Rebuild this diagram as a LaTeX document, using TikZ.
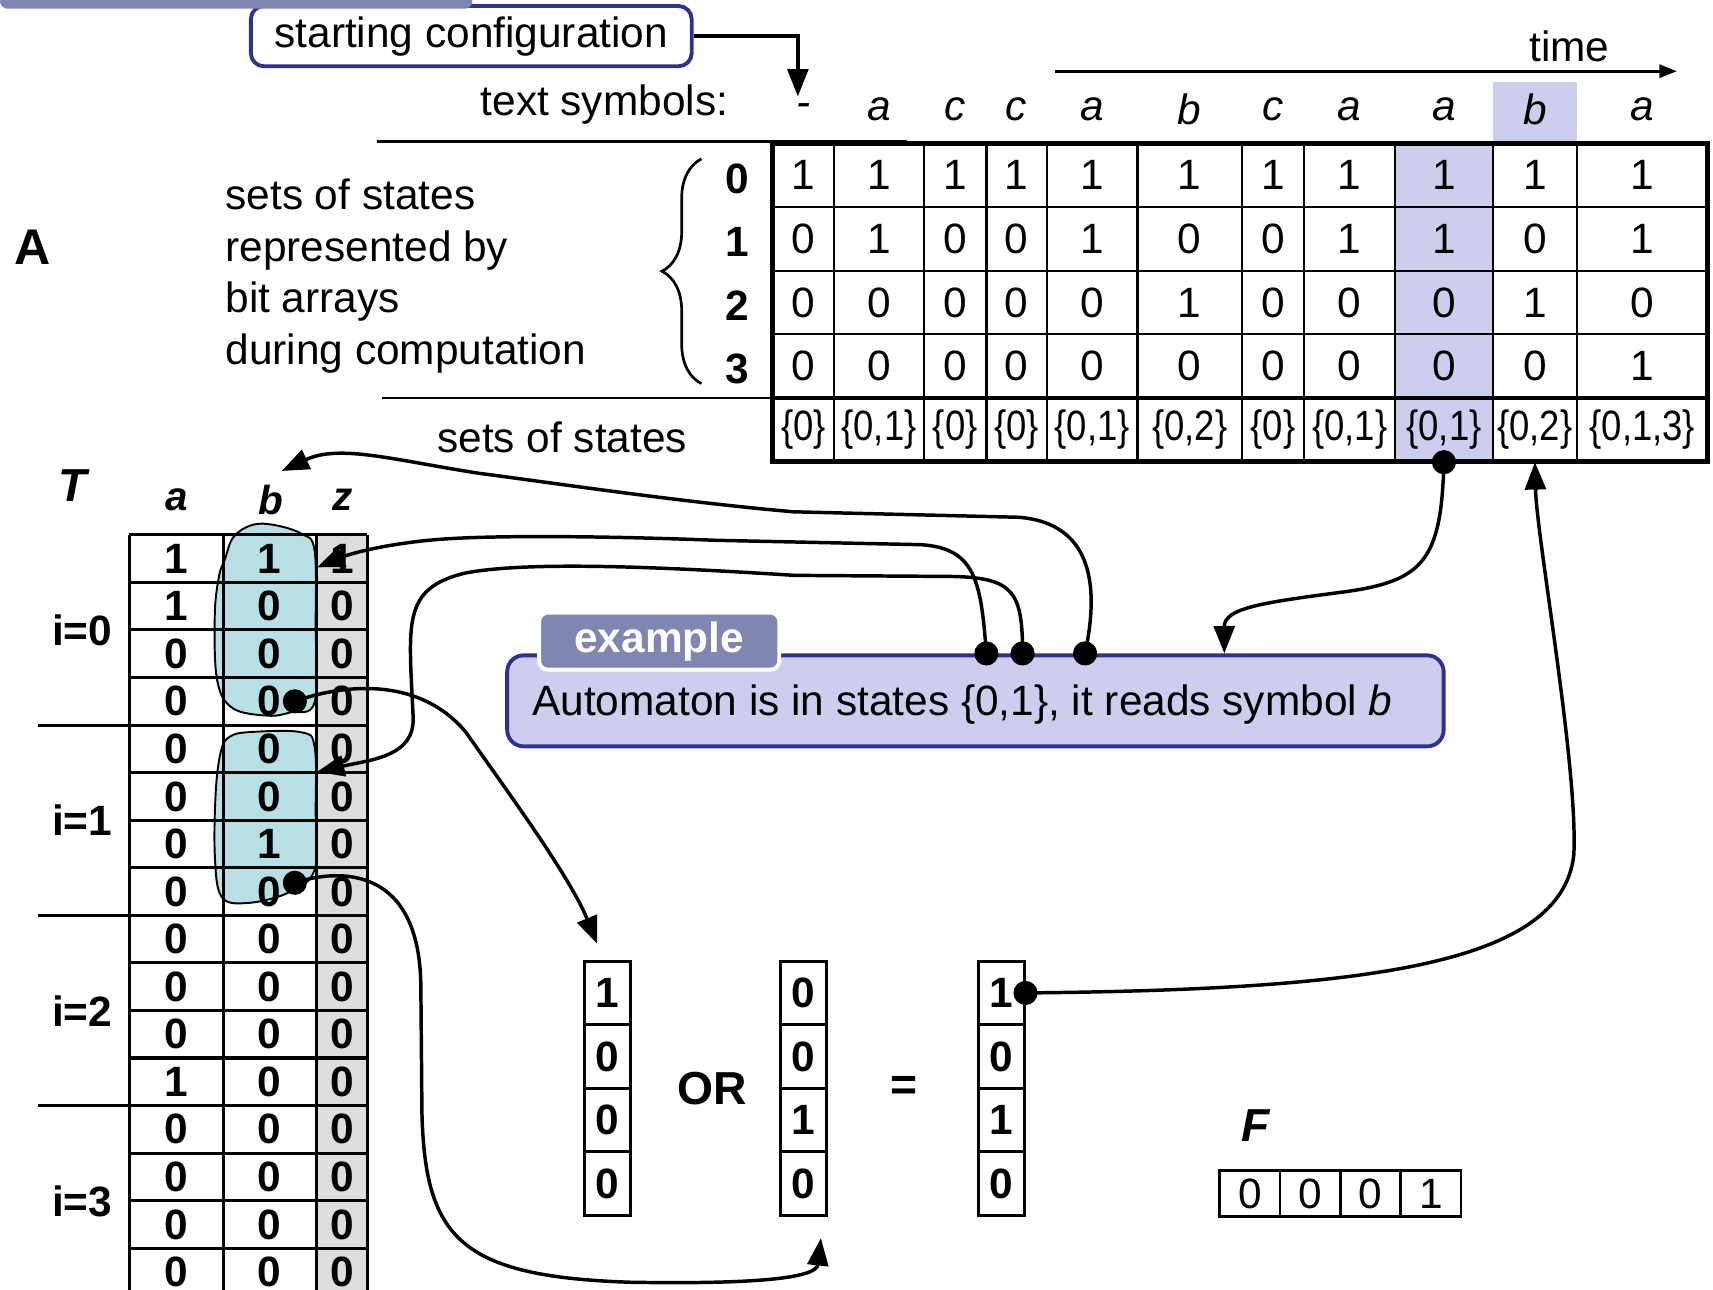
\documentclass[tikz,border=0pt]{standalone}
\usepackage{fontspec}
\setmainfont{Liberation Sans}
\newfontfamily\narrowfont[FakeStretch=0.86]{Liberation Sans}
\usetikzlibrary{shapes,arrows.meta,decorations.pathreplacing}
\definecolor{navy}{RGB}{46,49,146}
\definecolor{tabgrey}{RGB}{128,134,178}
\definecolor{lavender}{RGB}{205,205,237}
\definecolor{blob}{RGB}{184,224,228}
\definecolor{zgrey}{RGB}{221,221,221}

\begin{document}
\begin{tikzpicture}[x=0.01cm, y=-0.01cm, >={Triangle[length=0.25cm,width=0.19cm]}]
	\tikzstyle{every node}=[inner sep=0pt, font=\fontsize{11}{13}\selectfont];
	\tikzstyle{bit}=[font=\fontsize{11}{13}\selectfont\bfseries];
	\tikzstyle{head}=[font=\fontsize{10.5}{12}\selectfont\bfseries\itshape, inner sep=0.12cm];
	\tikzstyle{tcell}=[bit, minimum width=0.85cm, minimum height=0.434cm];
	\tikzstyle{vcell}=[bit, minimum width=0.42cm, minimum height=0.58cm];
	\tikzstyle{grid}=[line width=0.6pt];
	\tikzstyle{link}=[->, line width=0.9pt];
	\useasboundingbox (0,0) rectangle (1563,1177);

	% table of the sets of states
	\fill[lavender] (1273,131) rectangle (1362,421);
	\fill[lavender] (1362,75) rectangle (1439,131);
	\foreach \l/\r/\sym/\bits/\set [count=\c] in {705/761/-/{1,0,0,0}/{0}, 761/843/a/{1,1,0,0}/{0,1}, 843/900/c/{1,0,0,0}/{0}, 900/955/c/{1,0,0,0}/{0}, 955/1038/a/{1,1,0,0}/{0,1}, 1038/1133/b/{1,0,1,0}/{0,2}, 1133/1190/c/{1,0,0,0}/{0}, 1190/1273/a/{1,1,0,0}/{0,1}, 1273/1362/a/{1,1,0,0}/{0,1}, 1362/1439/b/{1,0,1,0}/{0,2}, 1439/1558/a/{1,1,0,1}/{0,1,3}} {
		\draw[grid] (\l,131) -- (\l,421);
		\node (sym-\c) at ({(\l+\r)/2},100) {\textit{\sym}};
		\foreach \b [count=\k] in \bits
			\node (bit-\c-\k) at ({(\l+\r)/2},{102+58*\k}) {\b};
		\node[minimum height=0.58cm, font=\fontsize{11}{13}\narrowfont] (set-\c) at ({(\l+\r)/2},392) {\{\set\}};
	}
	\foreach \y in {189,247,305} \draw[grid] (705,\y) -- (1558,\y);
	\draw[line width=1.2pt] (705,363) -- (1558,363);
	\draw[line width=1.4pt] (705,131) rectangle (1558,421);
	\draw[grid] (344,129) -- (828,129);
	\draw[grid] (349,363) -- (705,363);
	\draw[decorate, decoration={brace, amplitude=0.36cm}, line width=0.7pt] (640,350) -- (640,145);
	\foreach \s in {0,...,3}
		\node[bit] (state-\s) at (673,{163+58*\s}) {\s};

	\node[font=\fontsize{13}{15}\selectfont\bfseries] (alabel) at (30,226) {A};
	\node[anchor=west, align=left, font=\fontsize{11}{13.4}\selectfont] (desc) at (205,252) {sets of states\\represented by\\bit arrays\\during computation};
	\node (setslabel) at (513,399) {sets of states};
	\node[anchor=east] (textsym) at (665,95) {text symbols:};
	\node (time) at (1432,42) {time};
	\coordinate (timefrom) at (963,65);
	\coordinate (timeto) at (1530,65);
	\draw[-{Triangle[length=0.16cm,width=0.12cm]}, line width=0.7pt] (timefrom) -- (timeto);

	\node[draw=navy, line width=1pt, rounded corners=0.12cm, minimum width=4.02cm, minimum height=0.55cm] (startconf) at (430,33) {starting configuration};
	\fill[tabgrey, rounded corners=2pt] (0,-5) rectangle (431,8);
	\coordinate (startin) at (728,88);
	\draw[link] (startconf.east) -| (startin);

	% transition table T
	\fill[zgrey] (289,488) rectangle (335,1182);
	\filldraw[fill=blob, line width=0.5pt] plot[smooth cycle, tension=0.6] coordinates {(205,511) (213,490) (230,479) (250,479) (275,487) (287,502) (288,570) (287,641) (265,650) (244,653) (212,646) (198,620) (196,560) (200,525)};
	\filldraw[fill=blob, line width=0.5pt] plot[smooth cycle, tension=0.6] coordinates {(202,684) (210,672) (228,668) (274,668) (287,681) (288,740) (287,794) (262,815) (225,824) (202,818) (196,780) (197,720)};
	\foreach \k in {0,...,16} \draw[line width=0.8pt] (118,{488+43.4*\k}) -- (335,{488+43.4*\k});
	\foreach \x in {118,204,289,335} \draw[line width=0.8pt] (\x,488) -- (\x,1182);
	\foreach \k in {4,8,12} \draw[line width=0.8pt] (35,{488+43.4*\k}) -- (118,{488+43.4*\k});
	\foreach \va/\vb/\vz [count=\k] in {1/1/1, 1/0/0, 0/0/0, 0/0/0, 0/0/0, 0/0/0, 0/1/0, 0/0/0, 0/0/0, 0/0/0, 0/0/0, 1/0/0, 0/0/0, 0/0/0, 0/0/0, 0/0/0} {
		\node[tcell] (ta-\k) at (161,{466.3+43.4*\k}) {\va};
		\node[tcell] (tb-\k) at (246,{466.3+43.4*\k}) {\vb};
		\node[bit] (tz-\k) at (312,{466.3+43.4*\k}) {\vz};
	}
	\foreach \i in {0,...,3}
		\node[bit] (grp-\i) at (75,{575+173.6*\i}) {i=\i};
	\node[font=\fontsize{12}{14}\selectfont\bfseries\itshape] (tname) at (66,443) {T};
	\node[head] (ha) at (161,456) {a};
	\node[head] (hb) at (247,456) {b};
	\node[head] (hz) at (313,456) {z};

	% bit vectors
	\foreach \x/\bits [count=\v] in {554/{1,0,0,0}, 733/{0,0,1,0}, 914/{1,0,1,0}}
		\foreach \b [count=\k] in \bits {
			\draw[line width=0.75pt] ({\x-21},{819+58*\k}) rectangle ({\x+21},{877+58*\k});
			\node[vcell] (vec-\v-\k) at (\x,{848+58*\k}) {\b};
		}
	\node[font=\fontsize{12}{14}\selectfont\bfseries] (or) at (650,993) {OR};
	\node[font=\fontsize{12}{14}\selectfont\bfseries] (eq) at (825,993) {=};
	\node[font=\fontsize{12}{14}\selectfont\bfseries\itshape] (fname) at (1146,1027) {F};
	\foreach \b [count=\k] in {0,0,0,1} {
		\draw[line width=0.7pt] ({1058+55*\k},1068) rectangle ({1113+55*\k},1110);
		\node (f-\k) at ({1085.5+55*\k},1089) {\b};
	}

	% example box
	\node[draw=navy, line width=1pt, fill=lavender, rounded corners=0.15cm, minimum width=8.54cm, minimum height=0.83cm] (example) at (890,639.5) {};
	\node[anchor=west] (exampletext) at (485,643) {Automaton is in states \{0,1\}, it reads symbol \textit{b}};
	\node[draw=white, line width=1pt, fill=tabgrey, rounded corners=0.08cm, minimum width=2.19cm, minimum height=0.52cm, text=white, font=\fontsize{11}{13}\selectfont\bfseries] (tab) at (601.5,585) {example};

	% connectors
	\coordinate (exout1) at ([xshift=0.1cm]example.north);
	\coordinate (exout2) at ([xshift=0.43cm]example.north);
	\coordinate (exout3) at ([xshift=1cm]example.north);
	\coordinate (exin) at ([xshift=2.27cm]example.north);
	\coordinate (rowout1) at ([xshift=0.23cm]tb-4.center);
	\coordinate (rowout2) at ([xshift=0.23cm,yshift=0.08cm]tb-8.center);
	\draw[link] (exout3) .. controls (1002,540) and (1000,478) .. (930,472) -- (724,467) .. controls (620,458) and (500,440) .. (438,432) .. controls (360,420) and (310,405) .. ([xshift=0.1cm]hb.north);
	\draw[link] (exout1) .. controls (895,530) and (890,500) .. (840,497) -- (653,493) .. controls (550,489) and (440,488) .. (391,493) .. controls (350,497) and (320,505) .. ([yshift=-0.08cm]tb-1.east);
	\draw[link] (exout2) .. controls (933,540) and (925,527) .. (868,526) -- (725,525) .. controls (600,517) and (480,512) .. (424,523) .. controls (375,535) and (373,560) .. (375,614) -- (377,655) .. controls (378,690) and (340,693) .. (tb-6.north east);
	\draw[link] (rowout1) .. controls (320,622) and (385,620) .. (425,668) .. controls (465,725) and (520,800) .. ([xshift=-0.09cm,yshift=0.15cm]vec-1-1.north);
	\draw[link] (rowout2) .. controls (310,792) and (383,790) .. (384,900) -- (385,1016) .. controls (388,1130) and (420,1165) .. (576,1170) .. controls (700,1172) and (745,1165) .. ([xshift=0.16cm,yshift=-0.2cm]vec-2-4.south);
	\draw[link] (set-9.south) .. controls (1315,510) and (1300,530) .. (1227,540) .. controls (1150,550) and (1117,555) .. (exin);
	\draw[link] (vec-3-1.east) .. controls (1250,903) and (1425,880) .. (1436,780) .. controls (1440,700) and (1402,490) .. (set-10.south);
	\foreach \p in {exout1, exout2, exout3, rowout1, rowout2, set-9.south, vec-3-1.east}
		\fill (\p) circle (0.11cm);
\end{tikzpicture}
\end{document}
